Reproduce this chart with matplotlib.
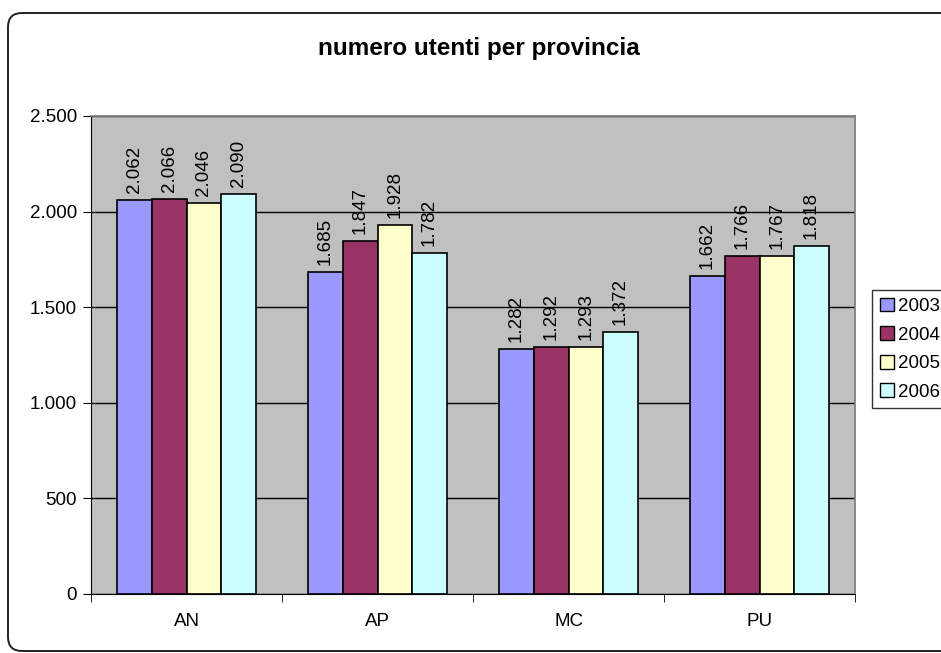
import numpy as np
import matplotlib.pyplot as plt
from matplotlib.patches import FancyBboxPatch
from matplotlib.transforms import IdentityTransform
from matplotlib.ticker import FuncFormatter

province = ["AN", "AP", "MC", "PU"]
anni = ["2003", "2004", "2005", "2006"]
utenti_2003 = [2062, 1685, 1282, 1662]
utenti_2004 = [2066, 1847, 1292, 1766]
utenti_2005 = [2046, 1928, 1293, 1767]
utenti_2006 = [2090, 1782, 1372, 1818]
colori = ["#9999FF", "#993366", "#FFFFCC", "#CCFFFF"]

plt.rcParams['font.family'] = ['Liberation Sans', 'DejaVu Sans']
FS = 13.5

fig = plt.figure(figsize=(9.41, 6.53), dpi=100)
# bordo arrotondato dell'area del grafico (in pixel)
fig.patches.append(FancyBboxPatch((8, 2), 1000, 638,
                                  boxstyle="round,pad=0,rounding_size=14",
                                  transform=IdentityTransform(), fill=False,
                                  edgecolor="#222222", linewidth=1.4))

ax = fig.add_axes([91/941, 59/653, 764/941, 478/653])
ax.set_facecolor("#C0C0C0")

x = np.arange(len(province))
w = 1/5.5
serie = [utenti_2003, utenti_2004, utenti_2005, utenti_2006]
for i, (vals, col, lab) in enumerate(zip(serie, colori, anni)):
    bars = ax.bar(x + (i - 1.5)*w, vals, w, color=col, edgecolor="black",
                  linewidth=1.2, label=lab, zorder=3)
    for b, v in zip(bars, vals):
        ax.annotate(f"{v/1000:.3f}", xy=(b.get_x() + b.get_width()/2, v),
                    xytext=(0, 5), textcoords="offset points",
                    ha="center", va="bottom", rotation=90, fontsize=FS, zorder=4)

ax.set_xlim(-0.5, 3.5)
ax.set_ylim(0, 2500)
ax.set_yticks(np.arange(0, 2501, 500))
ax.yaxis.set_major_formatter(FuncFormatter(lambda v, p: f"{int(v):,}".replace(",", ".")))
ax.yaxis.grid(True, color="black", linewidth=1, zorder=0)
ax.set_axisbelow(True)
ax.set_xticks(x)
ax.set_xticklabels(province)
ax.set_xticks(np.arange(-0.5, 4, 1), minor=True)
ax.tick_params(axis="x", which="major", length=0, pad=14, labelsize=FS)
ax.tick_params(axis="x", which="minor", length=6, direction="out", color="black")
ax.tick_params(axis="y", length=6, direction="out", labelsize=FS, pad=4)
for s in ["top", "right"]:
    ax.spines[s].set_color("#808080")
    ax.spines[s].set_linewidth(1.3)
ax.spines["left"].set_color("black")
ax.spines["bottom"].set_color("black")

fig.text(479/941, 1 - 48/653, "numero utenti per provincia", ha="center", va="center",
         fontsize=17.5, fontweight="bold")

leg = ax.legend(loc="upper left", bbox_to_anchor=(872/941, 1 - 290/653),
                bbox_transform=fig.transFigure, frameon=True, fancybox=False,
                fontsize=FS, handlelength=0.75, handleheight=0.75, handletextpad=0.25,
                labelspacing=0.6, borderpad=0.4, borderaxespad=0)
leg.get_frame().set_edgecolor("black")
leg.get_frame().set_linewidth(1)
for h in leg.legend_handles:
    h.set_linewidth(1)

fig.savefig("out.png", dpi=100)
